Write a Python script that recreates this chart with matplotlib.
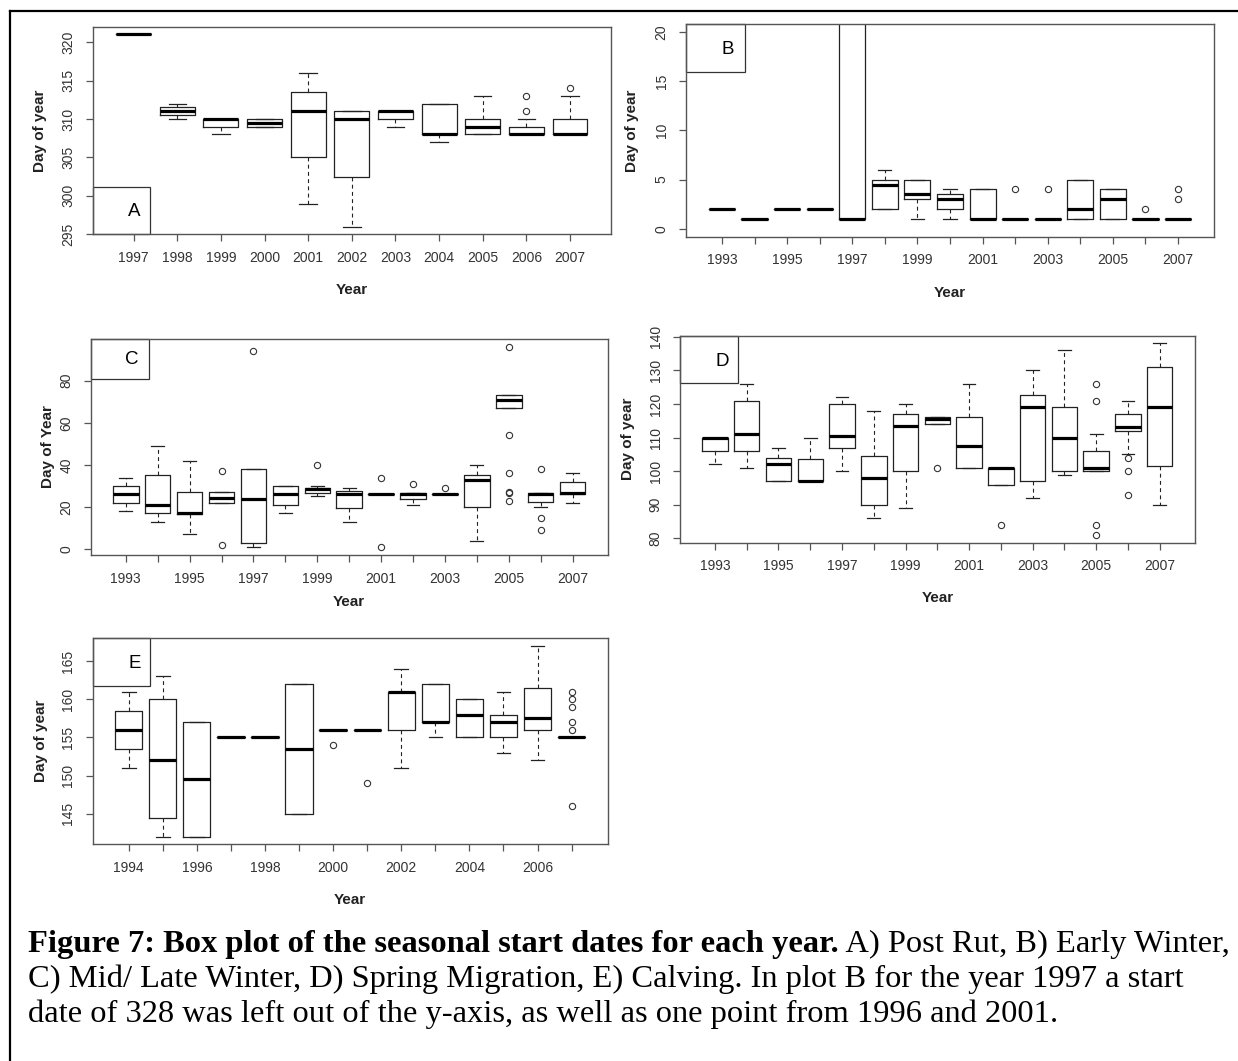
import matplotlib
matplotlib.use('Agg')
import matplotlib.pyplot as plt
from matplotlib.patches import Rectangle
from matplotlib.lines import Line2D

plt.rcParams['font.family'] = ['Liberation Sans', 'DejaVu Sans']

# A) Post Rut
years_a = ['1997', '1998', '1999', '2000', '2001', '2002', '2003', '2004', '2005', '2006', '2007']
a_med = [321, 311, 310, 309.5, 311, 310, 311, 308, 309, 308, 308]
a_q1 = [321, 310.5, 309, 309, 305, 302.5, 310, 308, 308, 308, 308]
a_q3 = [321, 311.5, 310, 310, 313.5, 311, 311, 312, 310, 309, 310]
a_lo = [321, 310, 308, 309, 299, 296, 309, 307, 308, 308, 308]
a_hi = [321, 312, 310, 310, 316, 311, 311, 312, 313, 310, 313]
a_out = [[], [], [], [], [], [], [], [], [], [313, 311], [314]]

# B) Early Winter
years_b = [str(y) for y in range(1993, 2008)]
b_med = [2, 1, 2, 2, 1, 4.5, 3.5, 3, 1, 1, 1, 2, 3, 1, 1]
b_q1 = [2, 1, 2, 2, 1, 2, 3, 2, 1, 1, 1, 1, 1, 1, 1]
b_q3 = [2, 1, 2, 2, 164.5, 5, 5, 3.5, 4, 1, 1, 5, 4, 1, 1]
b_lo = [2, 1, 2, 2, 1, 2, 1, 1, 1, 1, 1, 1, 1, 1, 1]
b_hi = [2, 1, 2, 2, 328, 6, 5, 4, 4, 1, 1, 5, 4, 1, 1]
b_out = [[], [], [], [], [], [], [], [], [], [4], [4], [], [], [2], [4, 3]]

# C) Mid/Late Winter
years_c = [str(y) for y in range(1993, 2008)]
c_med = [26, 21, 17, 24.5, 24, 26, 28.5, 26, 26, 26, 26, 33, 71, 26, 26.5]
c_q1 = [22, 17, 16.5, 22, 3, 21, 26.5, 19.5, 26, 24, 26, 20, 67, 22.5, 26]
c_q3 = [30, 35, 27, 27, 38, 30, 29, 27.5, 26, 26.5, 26, 35, 73, 26.5, 32]
c_lo = [18, 13, 7, 22, 1, 17, 25, 13, 26, 21, 26, 4, 67, 20, 22]
c_hi = [34, 49, 42, 27, 38, 30, 30, 29, 26, 26.5, 26, 40, 73, 26.5, 36]
c_out = [[], [], [], [37, 2], [94], [], [40], [], [34, 1], [31], [29], [],
         [96, 54, 36, 27, 26.5, 23], [38, 15, 9], []]

# D) Spring Migration
years_d = [str(y) for y in range(1993, 2008)]
d_med = [110, 111, 102, 97, 110.5, 98, 113.5, 115.5, 107.5, 101, 119, 110, 101, 113, 119]
d_q1 = [106, 106, 97, 97, 107, 90, 100, 114, 101, 96, 97, 100, 100, 112, 101.5]
d_q3 = [110, 121, 104, 103.5, 120, 104.5, 117, 116, 116, 101, 122.5, 119, 106, 117, 131]
d_lo = [102, 101, 97, 97, 100, 86, 89, 114, 101, 96, 92, 99, 100, 105, 90]
d_hi = [110, 126, 107, 110, 122, 118, 120, 116, 126, 101, 130, 136, 111, 121, 138]
d_out = [[], [], [], [], [], [], [], [101], [], [84], [], [], [126, 121, 84, 81], [104, 100, 93], []]

# E) Calving
years_e = [str(y) for y in range(1994, 2008)]
e_med = [156, 152, 149.5, 155, 155, 153.5, 156, 156, 161, 157, 158, 157, 157.5, 155]
e_q1 = [153.5, 144.5, 142, 155, 155, 145, 156, 156, 156, 157, 155, 155, 156, 155]
e_q3 = [158.5, 160, 157, 155, 155, 162, 156, 156, 161, 162, 160, 158, 161.5, 155]
e_lo = [151, 142, 142, 155, 155, 145, 156, 156, 151, 155, 155, 153, 152, 155]
e_hi = [161, 163, 157, 155, 155, 162, 156, 156, 164, 162, 160, 161, 167, 155]
e_out = [[], [], [], [], [], [], [154], [149], [], [], [], [], [], [161, 160, 159, 157, 156, 146]]

W, H = 1238, 1061
fig = plt.figure(figsize=(W / 100, H / 100), dpi=100)


def px_rect(l, r, t, b):
    return [l / W, 1 - b / H, (r - l) / W, (b - t) / H]


def panel(rect, years, med, q1, q3, lo, hi, out, xlim, ylim, yticks, ylabel,
          letter, lbox, ltext, ylab_x, xlab_y, every):
    ax = fig.add_axes(rect)
    stats = []
    for i in range(len(years)):
        stats.append(dict(med=med[i], q1=q1[i], q3=q3[i], whislo=lo[i],
                          whishi=hi[i], fliers=out[i]))
    ax.bxp(stats, positions=range(1, len(years) + 1), widths=0.8,
           boxprops=dict(color='#222222', lw=0.9),
           medianprops=dict(color='black', lw=2.3, solid_capstyle='butt'),
           whiskerprops=dict(color='#222222', lw=0.8, linestyle=(0, (3.5, 3))),
           capprops=dict(color='#222222', lw=0.9),
           flierprops=dict(marker='o', mfc='none', mec='#333333', ms=4.5, mew=0.8))
    ax.set_xlim(*xlim)
    ax.set_ylim(*ylim)
    ax.set_yticks(yticks)
    ax.set_xticks(range(1, len(years) + 1))
    ax.set_xticklabels([y if i % every == 0 else '' for i, y in enumerate(years)])
    ax.tick_params(axis='both', direction='out', length=5, width=0.9,
                   color='#555555', labelcolor='#333333', labelsize=10)
    ax.tick_params(axis='x', pad=7)
    ax.tick_params(axis='y', pad=7.5, labelrotation=90)
    for t in ax.get_yticklabels():
        t.set_va('center')
    for s in ax.spines.values():
        s.set_color('#555555')
        s.set_linewidth(1.0)
    ax.set_ylabel(ylabel, fontsize=11, fontweight='bold', color='#222222')
    ax.yaxis.set_label_coords(ylab_x, 0.5)
    ax.set_xlabel('Year', fontsize=11, fontweight='bold', color='#222222')
    ax.xaxis.set_label_coords(0.5, xlab_y)
    ax.add_patch(Rectangle((lbox[0], lbox[1]), lbox[2], lbox[3], transform=ax.transAxes,
                           fill=False, edgecolor='#333333', lw=0.9, clip_on=False))
    ax.text(ltext[0], ltext[1], letter, transform=ax.transAxes, fontsize=13.5,
            ha='center', va='center', color='black')
    return ax


panel(px_rect(92.6, 611, 26.7, 234.3), years_a, a_med, a_q1, a_q3, a_lo, a_hi, a_out,
      (0.06, 11.94), (295, 322), range(295, 321, 5), 'Day of year', 'A',
      (0, 0, 0.110, 0.229), (0.080, 0.109), -0.088, -0.235, 1)

panel(px_rect(686.1, 1213.9, 24, 236.7), years_b, b_med, b_q1, b_q3, b_lo, b_hi, b_out,
      (-0.1, 16.1), (-0.8, 20.8), range(0, 21, 5), 'Day of year', 'B',
      (0, 0.773, 0.111, 0.227), (0.079, 0.878), -0.089, -0.232, 2)

panel(px_rect(90.7, 607.7, 339, 555), years_c, c_med, c_q1, c_q3, c_lo, c_hi, c_out,
      (-0.1, 16.1), (-2.8, 99.8), range(0, 81, 20), 'Day of Year', 'C',
      (0, 0.815, 0.113, 0.185), (0.079, 0.903), -0.070, -0.184, 2)

panel(px_rect(680, 1194.7, 335.7, 542.7), years_d, d_med, d_q1, d_q3, d_lo, d_hi, d_out,
      (-0.1, 16.1), (78.72, 140.28), range(80, 141, 10), 'Day of year', 'D',
      (0, 0.770, 0.113, 0.230), (0.082, 0.874), -0.087, -0.235, 2)

panel(px_rect(92.6, 607.7, 638.3, 844.3), years_e, e_med, e_q1, e_q3, e_lo, e_hi, e_out,
      (-0.06, 15.06), (141, 168), range(145, 166, 5), 'Day of year', 'E',
      (0, 0.770, 0.112, 0.230), (0.082, 0.879), -0.086, -0.236, 2)

# frame of the table cell
fig.add_artist(Line2D([10 / W, 1], [1 - 11 / H, 1 - 11 / H], color='black', lw=1.6))
fig.add_artist(Line2D([10 / W, 10 / W], [0, 1 - 11 / H], color='black', lw=1.6))

# caption
cap_size = 23.4
x0 = 28 / W
renderer = fig.canvas.get_renderer()
t1 = fig.text(x0, 1 - 952 / H, 'Figure 7: Box plot of the seasonal start dates for each year.',
              family='Liberation Serif', fontweight='bold', fontsize=cap_size, va='baseline')
bb = t1.get_window_extent(renderer)
fig.text(bb.x1 / W, 1 - 952 / H, ' A) Post Rut, B) Early Winter,',
         family='Liberation Serif', fontsize=cap_size, va='baseline')
fig.text(x0, 1 - 987 / H, 'C) Mid/ Late Winter, D) Spring Migration, E) Calving. In plot B for the year 1997 a start',
         family='Liberation Serif', fontsize=cap_size, va='baseline')
fig.text(x0, 1 - 1022 / H, 'date of 328 was left out of the y-axis, as well as one point from 1996 and 2001.',
         family='Liberation Serif', fontsize=cap_size, va='baseline')

fig.savefig('out.png', dpi=100)
